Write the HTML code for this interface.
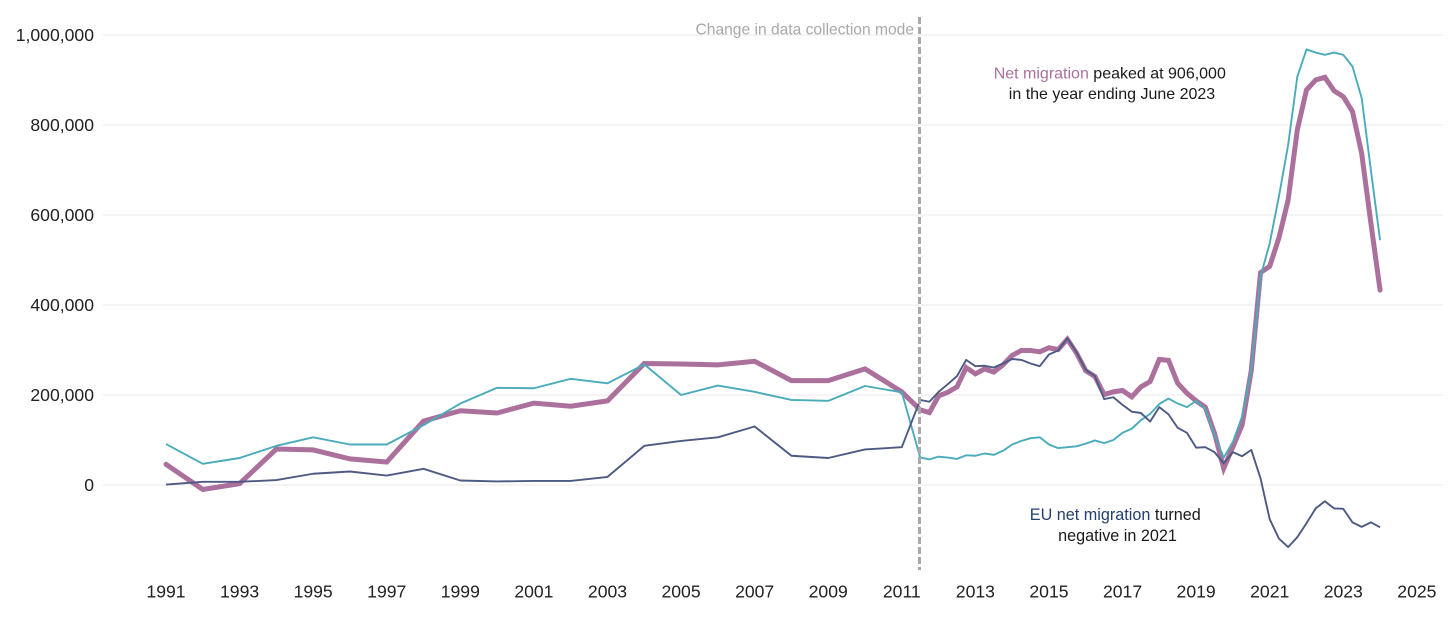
<!DOCTYPE html>
<html lang="en">
<head>
<meta charset="utf-8">
<title>UK net migration chart</title>
<style>
html,body{margin:0;padding:0;background:#fff;width:1456px;height:625px;overflow:hidden}
svg{display:block;font-family:"Liberation Sans",sans-serif}
</style>
</head>
<body>
<svg id="chart" width="1456" height="625" viewBox="0 0 1456 625" xmlns="http://www.w3.org/2000/svg">
  <g id="grid"></g>
  <g id="y-axis"></g>
  <g id="x-axis"></g>
  <g id="series"></g>
  <line x1="919.5" y1="17" x2="919.5" y2="570" stroke="#a9a9a9" stroke-width="3" stroke-dasharray="7 3"></line>
  <text x="914" y="34.5" text-anchor="end" font-size="15.6" fill="#a8a8a8">Change in data collection mode</text>
  <text text-anchor="middle" font-size="16" fill="#1a1a1a">
    <tspan x="1112" y="78.5"><tspan fill="#a9709f">Net migration</tspan> peaked at 906,000</tspan>
    <tspan x="1112" y="99">in the year ending June 2023</tspan>
  </text>
  <text text-anchor="middle" font-size="16.2" fill="#1a1a1a">
    <tspan x="1117.5" y="520"><tspan fill="#25406e">EU net migration</tspan> turned</tspan>
    <tspan x="1117.5" y="541">negative in 2021</tspan>
  </text>
</svg>
<script>
const times = [1991,1992,1993,1994,1995,1996,1997,1998,1999,2000,2001,2002,2003,2004,2005,2006,2007,2008,2009,2010,2011,
  2011.5,2011.75,2012,2012.25,2012.5,2012.75,2013,2013.25,2013.5,2013.75,2014,2014.25,2014.5,2014.75,2015,2015.25,2015.5,2015.75,
  2016,2016.25,2016.5,2016.75,2017,2017.25,2017.5,2017.75,2018,2018.25,2018.5,2018.75,2019,2019.25,2019.5,2019.75,
  2020,2020.25,2020.5,2020.75,2021,2021.25,2021.5,2021.75,2022,2022.25,2022.5,2022.75,2023,2023.25,2023.5,2023.75,2024];
const netMigration = [46,-10,3,80,78,58,51,142,165,160,182,175,187,270,269,267,275,232,232,258,207,
  167,161,198,206,218,261,247,258,251,267,288,299,299,296,305,301,324,293,254,241,201,207,210,196,218,230,279,277,226,204,187,173,115,37,85,133,255,
  472,486,549,633,789,878,900,906,876,863,830,737,582,433];
const nonEuMigration = [91,47,60,87,106,90,90,133,181,216,215,236,226,268,200,221,207,189,187,220,206,
  61,57,63,61,58,66,65,70,67,76,90,98,104,106,90,82,84,86,92,99,93,100,116,125,144,158,180,192,181,173,187,170,111,61,96,152,255,
  463,537,641,755,907,968,961,956,961,956,930,860,700,544];
const euMigration = [1,7,7,11,25,30,21,36,10,8,9,9,18,87,98,106,130,65,60,79,84,
  189,185,207,224,242,278,264,265,261,270,280,278,270,264,290,299,326,295,256,242,191,195,178,163,160,141,173,157,127,116,83,84,73,48,73,64,78,
  15,-76,-119,-138,-116,-85,-52,-36,-52,-53,-83,-93,-83,-94];
const yTickValues = [0,200,400,600,800,1000];
const yTickLabels = ["0","200,000","400,000","600,000","800,000","1,000,000"];
const xTickYears = [1991,1993,1995,1997,1999,2001,2003,2005,2007,2009,2011,2013,2015,2017,2019,2021,2023,2025];

const NS = "http://www.w3.org/2000/svg";
function xScale(t){ return 166 + (t - 1991) * 36.79; }
function yScale(v){ return 485 - v * 0.45; }

const gridGroup = document.getElementById("grid");
const yGroup = document.getElementById("y-axis");
yTickValues.forEach(function(v, i){
  const line = document.createElementNS(NS, "line");
  
  
  line.setAttribute("x1", 103);
  line.setAttribute("x2", 1443);
  line.setAttribute("y1", yScale(v));
  line.setAttribute("y2", yScale(v));
  line.setAttribute("stroke", "#f0f0f0");
  line.setAttribute("stroke-width", "1.5");
  gridGroup.appendChild(line);
  const label = document.createElementNS(NS, "text");
  
  
  label.setAttribute("x", 94);
  label.setAttribute("y", yScale(v) + 6.2);
  label.setAttribute("text-anchor", "end");
  label.setAttribute("font-size", "17.6");
  label.setAttribute("fill", "#222");
  label.textContent = yTickLabels[i];
  yGroup.appendChild(label);
});

const xGroup = document.getElementById("x-axis");
xTickYears.forEach(function(yr){
  const label = document.createElementNS(NS, "text");
  
  
  label.setAttribute("x", xScale(yr));
  label.setAttribute("y", 597.5);
  label.setAttribute("text-anchor", "middle");
  label.setAttribute("font-size", "17.6");
  label.setAttribute("fill", "#222");
  label.textContent = String(yr);
  xGroup.appendChild(label);
});

function pathFor(values){
  return values.map(function(v, i){
    return (i ? "L" : "M") + xScale(times[i]).toFixed(2) + " " + yScale(v).toFixed(2);
  }).join(" ");
}
const seriesGroup = document.getElementById("series");

const netLine = document.createElementNS(NS, "path");


netLine.setAttribute("d", pathFor(netMigration));
netLine.setAttribute("fill", "none");
netLine.setAttribute("stroke", "#ab709c");
netLine.setAttribute("stroke-width", "5");
netLine.setAttribute("stroke-linejoin", "miter");
netLine.setAttribute("stroke-linecap", "round");
seriesGroup.appendChild(netLine);

const nonEuLine = document.createElementNS(NS, "path");


nonEuLine.setAttribute("d", pathFor(nonEuMigration));
nonEuLine.setAttribute("fill", "none");
nonEuLine.setAttribute("stroke", "#4aabba");
nonEuLine.setAttribute("stroke-width", "1.9");
nonEuLine.setAttribute("stroke-linejoin", "round");
seriesGroup.appendChild(nonEuLine);

const euLine = document.createElementNS(NS, "path");


euLine.setAttribute("d", pathFor(euMigration));
euLine.setAttribute("fill", "none");
euLine.setAttribute("stroke", "#4d5a83");
euLine.setAttribute("stroke-width", "1.9");
euLine.setAttribute("stroke-linejoin", "round");
seriesGroup.appendChild(euLine);
</script>
</body>
</html>
